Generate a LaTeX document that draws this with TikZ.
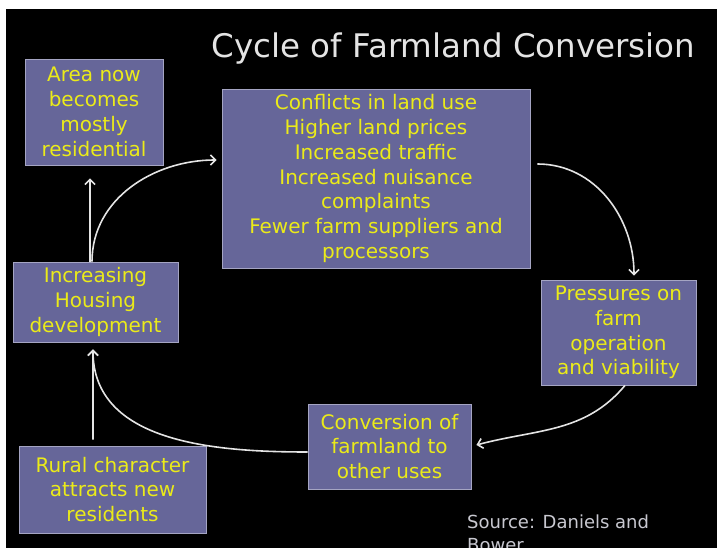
\documentclass[tikz,border=0pt]{standalone}
\usepackage{fontspec}
\setmainfont{DejaVu Sans}
\usepackage{xcolor}
\usepackage{tikz}
\usetikzlibrary{arrows.meta, positioning}
\definecolor{cBox}{RGB}{102,102,153}
\definecolor{cEdge}{RGB}{165,165,195}
\definecolor{cYellow}{RGB}{235,235,25}
\definecolor{cTitle}{RGB}{228,228,228}
\definecolor{cSource}{RGB}{200,200,208}
\definecolor{cArrow}{RGB}{228,228,228}
\tikzset{
	stage/.style={rectangle, draw=cEdge, line width=0.9bp, fill=cBox, text=cYellow, align=center, inner sep=2bp, font=\fontsize{20bp}{24.8bp}\selectfont},
	cyc/.style  ={-{Straight Barb[length=5bp, width=10bp]}, draw=cArrow, line width=1.6bp},
}

\begin{document}
\begin{tikzpicture}[x=1bp, y=1bp]
	\useasboundingbox (0,0) rectangle (717,548);
	\clip (0,0) rectangle (717,548);
	\fill[white] (0,0) rectangle (717,548);
	\fill[black] (6,0) rectangle (717,539);
	\node[text=cTitle, anchor=base, font=\fontsize{32.5bp}{39bp}\selectfont] (title) at (453.5,490) {Cycle of Farmland Conversion};
	\node[stage, minimum width=138bp, minimum height=106bp] (area)  at (94,436)     {Area now\\ becomes\\ mostly\\ residential};
	\node[stage, minimum width=308bp, minimum height=179bp] (conf)  at (376,369.5)  {Conflicts in land use\\ Higher land prices\\ Increased traffic\\ Increased nuisance\\ complaints\\ Fewer farm suppliers and\\ processors};
	\node[stage, minimum width=165bp, minimum height=80bp]  (house) at (95.5,246)   {Increasing\\ Housing\\ development};
	\node[stage, minimum width=155bp, minimum height=105bp] (press) at (618.5,215.5) {Pressures on\\ farm\\ operation\\ and viability};
	\node[stage, minimum width=163bp, minimum height=85bp]  (conv)  at (389.5,101.5) {Conversion of\\ farmland to\\ other uses};
	\node[stage, minimum width=187bp, minimum height=87bp]  (rural) at (112.5,58.5)  {Rural character\\ attracts new\\ residents};
	\node[text=cSource, anchor=base west, align=left, inner sep=0pt, font=\fontsize{18bp}{23bp}\selectfont] (src) at (467,-4) {Source: Daniels and\\ Bower};
	\draw[cyc, shorten >=13bp] ([xshift=-5.5bp]house.north) -- ([xshift=-5.5bp]house.north |- area.south);
	\draw[cyc] ([xshift=-3.5bp]house.north) to[out=90, in=180] ([xshift=-5bp, yshift=18.5bp]conf.west);
	\draw[cyc] ([xshift=7bp, yshift=14.5bp]conf.east) to[out=0, in=90] ([xshift=15.5bp, yshift=4bp]press.north);
	\draw[cyc] ([xshift=6.5bp]press.south) to[out=-130, in=15] ([xshift=5bp, yshift=1.5bp]conv.east);
	\draw[cyc] ([yshift=-5.5bp]conv.west) to[out=180, in=-90] ([xshift=-2.5bp, yshift=-7bp]house.south);
	\draw[cyc, shorten <=6bp] ([xshift=-19.5bp]rural.north) -- ([xshift=-2.5bp, yshift=-7bp]house.south);
\end{tikzpicture}
\end{document}
